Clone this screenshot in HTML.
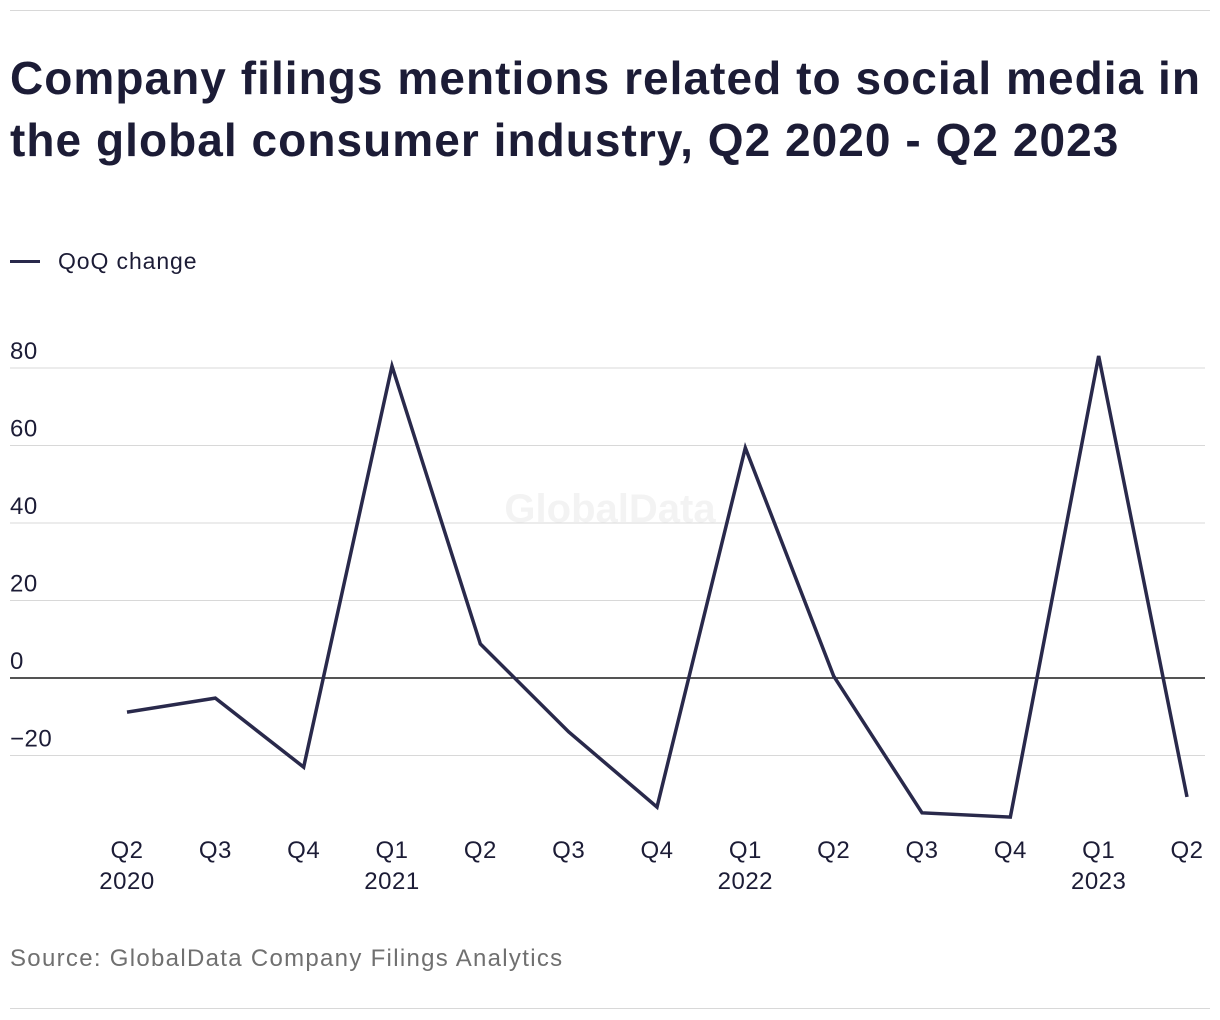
<!DOCTYPE html>
<html><head><meta charset="utf-8"><style>
body{margin:0;background:#fff;width:1220px;height:1020px;overflow:hidden;font-family:"Liberation Sans",sans-serif;color:#1c1c36}
.rule{position:absolute;left:10px;width:1200px;height:1px;background:#d8d8d8}
h1{position:absolute;left:10px;top:47px;margin:0;font-size:46px;line-height:62px;font-weight:bold;letter-spacing:1.05px;color:#1c1c36;width:1210px}
.legend{position:absolute;left:10px;top:248px;font-size:23px;letter-spacing:0.9px;color:#1c1c36;display:flex;align-items:center}
.legend span.sw{display:inline-block;width:30px;height:3px;background:#29294b;margin-right:18px}
.src{position:absolute;left:10px;top:945px;font-size:24px;letter-spacing:1.3px;color:#707070}
svg{position:absolute;left:0;top:0}
</style></head><body>
<div class="rule" style="top:10px"></div>
<h1>Company filings mentions related to social media in the global consumer industry, Q2 2020 - Q2 2023</h1>
<div class="legend"><span class="sw"></span>QoQ change</div>
<svg width="1220" height="1020" id="chart"></svg>
<div class="src">Source: GlobalData Company Filings Analytics</div>
<div class="rule" style="top:1008px"></div>
<script>
const categories=["Q2|2020","Q3","Q4","Q1|2021","Q2","Q3","Q4","Q1|2022","Q2","Q3","Q4","Q1|2023","Q2"];
const values=[-8.8,-5.2,-23,80.5,8.8,-13.9,-33.3,59.4,0.5,-34.8,-35.9,83.1,-30.7];
const yTicks=[-20,0,20,40,60,80];
const yTickLabels=["−20","0","20","40","60","80"];
const NS="http://www.w3.org/2000/svg";
const svg=document.getElementById('chart');
const y=v=>678-v*3.875;
const x=i=>127+i*(1187-127)/(categories.length-1);
function mk(t,a){const e=document.createElementNS(NS,t);for(const k in a)e.setAttribute(k,a[k]);svg.appendChild(e);return e;}
const wm=mk('text',{x:610,y:522,'font-size':40,'font-weight':'bold',fill:'#f3f3f3','text-anchor':'middle','font-family':'Liberation Sans, sans-serif'});
wm.textContent='GlobalData';


yTicks.forEach((v,i)=>{
 const l=mk('line',{x1:10,x2:1205,y1:y(v),y2:y(v),stroke:v===0?'#1c1c1c':'#d8d8d8','stroke-width':v===0?1.5:1});
 
 
 const t=mk('text',{x:10,y:y(v)-9,'font-size':24,'letter-spacing':'0.5',fill:'#1c1c36','font-family':'Liberation Sans, sans-serif'});
 t.textContent=yTickLabels[i];
 
 
});
categories.forEach((c,i)=>{
 const parts=c.split('|');
 parts.forEach((p,j)=>{
  const t=mk('text',{x:x(i),y:858+j*31,'font-size':24,'letter-spacing':'0.5',fill:'#1c1c36','text-anchor':'middle','font-family':'Liberation Sans, sans-serif'});
  t.textContent=p;
  
  
 });
});
const d=values.map((v,i)=>(i?'L':'M')+x(i)+','+y(v)).join(' ');
const p=mk('path',{d:d,fill:'none',stroke:'#29294b','stroke-width':3.5,'stroke-linejoin':'miter'});


</script>
</body></html>
